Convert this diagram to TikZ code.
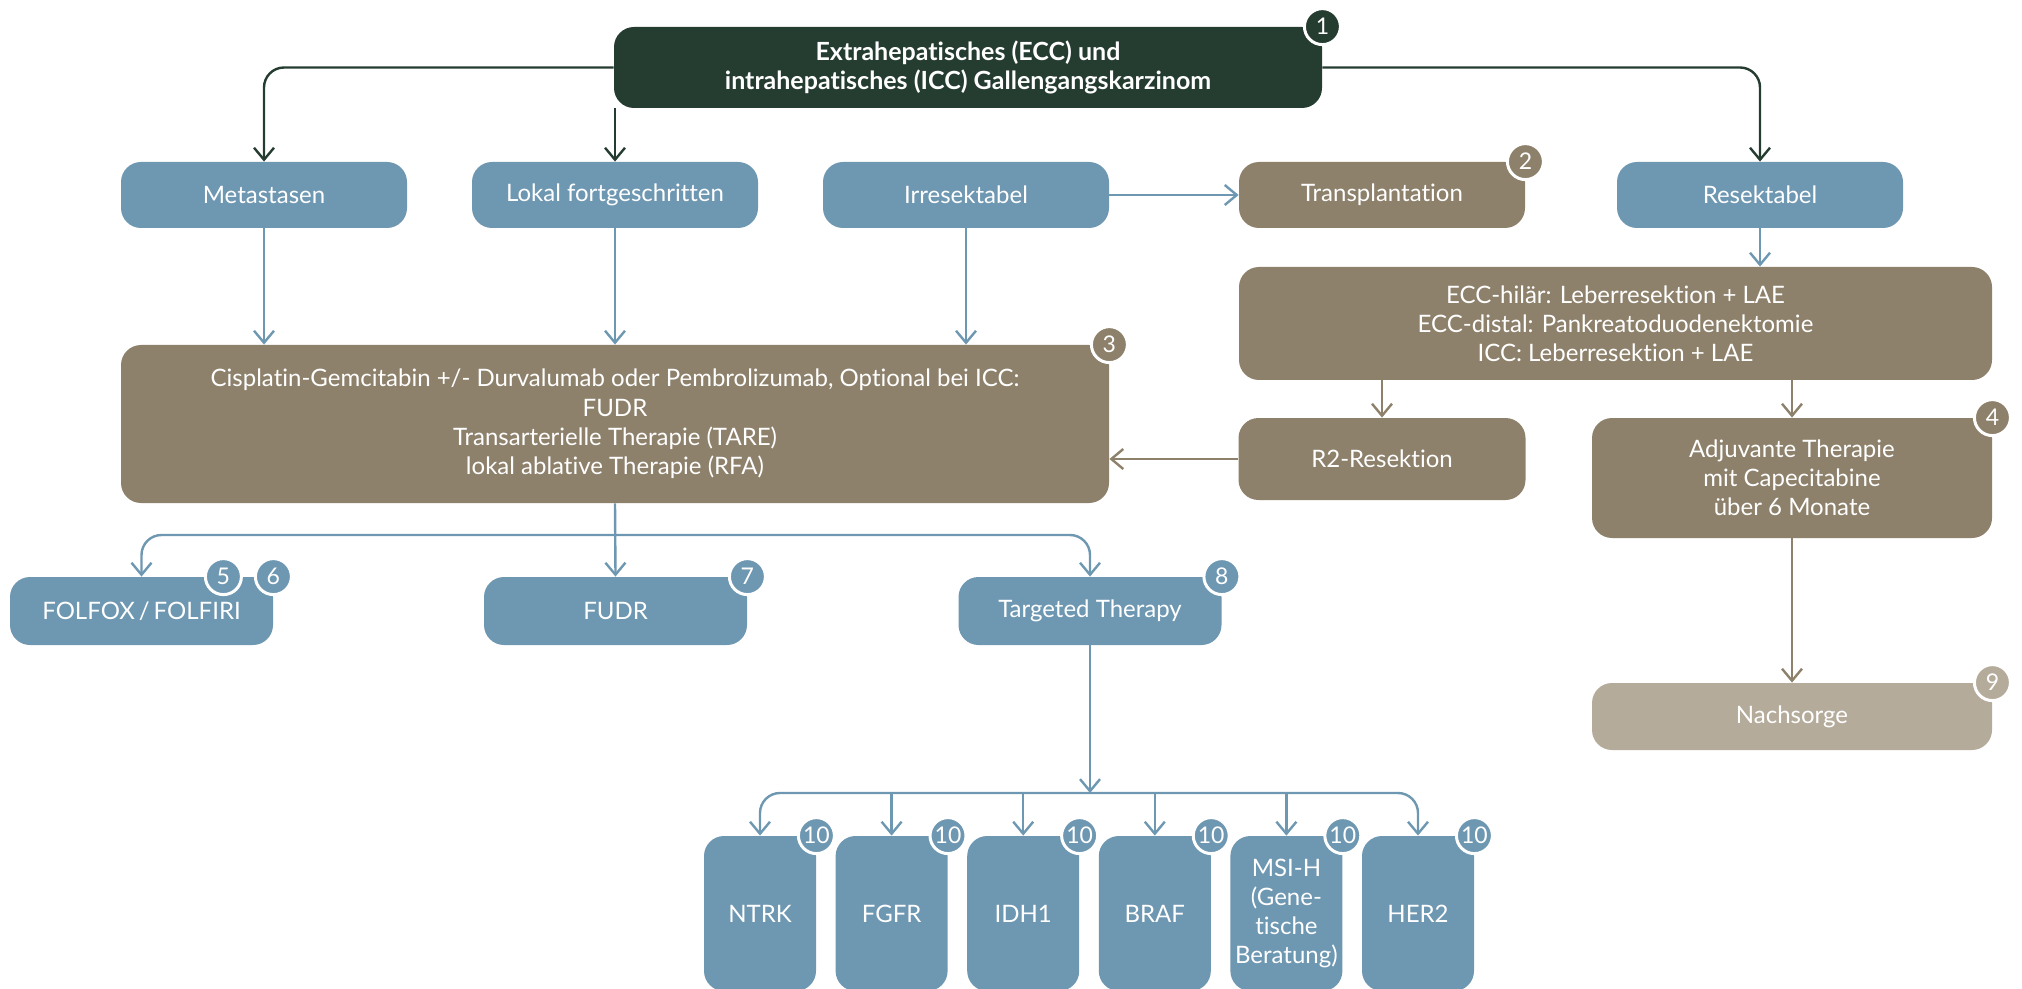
\documentclass[tikz,border=0pt]{standalone}
\usepackage{fontspec}
\setmainfont{Lato}[Ligatures=NoCommon]
\usetikzlibrary{arrows.meta}
\definecolor{dgreen}{HTML}{253C31}
\definecolor{cblue}{HTML}{6E97B2}
\definecolor{cbrown}{HTML}{8E816B}
\definecolor{clight}{HTML}{B5AB9B}
\tikzset{
  box/.style={rounded corners=10pt, text=white, align=center, inner sep=0pt,
    font=\fontsize{12}{14.6}\selectfont},
  bluebox/.style={box, fill=cblue},
  brownbox/.style={box, fill=cbrown},
  rowbox/.style={minimum width=143pt, minimum height=33pt},
  badge/.style={circle, draw=white, line width=1.5pt, minimum size=18pt, inner sep=0pt,
    text=white, font=\fontsize{11.5}{12}\selectfont},
  conn/.style={line width=1.2pt, rounded corners=10pt, -{Straight Barb[length=6pt,width=10pt,line width=1.2pt]}},
}
\begin{document}
\begin{tikzpicture}[x=0.5pt,y=-0.5pt]
\useasboundingbox (0,0) rectangle (2022,989);
\begin{scope}
\clip (0,0) rectangle (2022,989);
% top
\node[box, fill=dgreen, minimum width=354pt, minimum height=40.5pt, font=\bfseries\fontsize{12.5}{14.5}\selectfont] (top) at (968,67.5)
  {Extrahepatisches (ECC) und\\intrahepatisches (ICC) Gallengangskarzinom};
% row 1
\node[bluebox, rowbox] (meta) at (264,195) {Metastasen};
\node[bluebox, rowbox] (lokal) at (615,195) {Lokal fortgeschritten};
\node[bluebox, rowbox] (irr) at (966,195) {Irresektabel};
\node[brownbox, rowbox] (trans) at (1382,195) {Transplantation};
\node[bluebox, rowbox] (resek) at (1760,195) {Resektabel};
% ECC
\node[brownbox, minimum width=376.5pt, minimum height=56.5pt] (ecc) at (1615.5,323.5)
  {ECC-hilär: Leberresektion + LAE\\ECC-distal: Pankreatoduodenektomie\\ICC: Leberresektion + LAE};
% big
\node[brownbox, minimum width=494pt, minimum height=79pt] (big) at (615,424)
  {Cisplatin-Gemcitabin +/- Durvalumab oder Pembrolizumab, Optional bei ICC:\\FUDR\\Transarterielle Therapie (TARE)\\lokal ablative Therapie (RFA)};
\node[brownbox, minimum width=143.5pt, minimum height=41pt] (r2) at (1382,459) {R2-Resektion};
\node[brownbox, minimum width=200pt, minimum height=60pt] (adj) at (1792,478) {Adjuvante Therapie\\mit Capecitabine\\über 6 Monate};
\node[box, fill=clight, minimum width=200pt, minimum height=33.5pt] (nach) at (1792,716.5) {Nachsorge};
% row 3
\node[bluebox, minimum width=131.5pt, minimum height=34pt] (folfox) at (141.5,611) {FOLFOX\,/\,FOLFIRI};
\node[bluebox, minimum width=131.5pt, minimum height=34pt] (fudr) at (615.5,611) {FUDR};
\node[bluebox, minimum width=131.5pt, minimum height=34pt] (targ) at (1090,611) {Targeted Therapy};
% bottom
\foreach \n/\t [count=\i from 0] in {ntrk/NTRK, fgfr/FGFR, idh/IDH1, braf/BRAF, msi/{MSI-H\\(Gene-\\tische\\Beratung)}, her/HER2}{
  \node[bluebox, minimum width=56pt, minimum height=77.5pt] (\n) at ({760+131.6*\i},913.5) {\t};
}
% coordinates
\coordinate (b1) at (615,535);
\coordinate (b2) at (1090,793);
% connectors top
\draw[conn, dgreen] (top.west) -| (meta.north);
\draw[conn, dgreen] (lokal.north |- top.south) -- (lokal.north);
\draw[conn, dgreen] (top.east) -| (resek.north);
% blue
\draw[conn, cblue] (irr.east) -- (trans.west);
\draw[conn, cblue] (resek.south) -- (resek.south |- ecc.north);
\draw[conn, cblue] (meta.south) -- (meta.south |- big.north);
\draw[conn, cblue] (lokal.south) -- (lokal.south |- big.north);
\draw[conn, cblue] (irr.south) -- (irr.south |- big.north);
% brown
\draw[conn, cbrown] (r2.north |- ecc.south) -- (r2.north);
\draw[conn, cbrown] (adj.north |- ecc.south) -- (adj.north);
\draw[conn, cbrown] (r2.west) -- (r2.west -| big.east);
\draw[conn, cbrown] (adj.south) -- (nach.north);
% branch 1
\draw[conn, cblue] (big.south) -- (fudr.north);
\draw[conn, cblue] (b1) -| (folfox.north);
\draw[conn, cblue] (b1) -| (targ.north);
% branch 2
\draw[conn, cblue] (targ.south) -- (b2);
\draw[conn, cblue] (b2) -| (ntrk.north);
\draw[conn, cblue] (b2) -| (her.north);
\foreach \n in {fgfr, idh, braf, msi}{
  \draw[conn, cblue] (\n.north |- b2) -- (\n.north);
}
% badges
\node[badge, fill=dgreen] (n1) at (top.north east) {1};
\node[badge, fill=cbrown] (n2) at (trans.north east) {2};
\node[badge, fill=cbrown] (n3) at (big.north east) {3};
\node[badge, fill=cbrown] (n4) at (adj.north east) {4};
\node[badge, fill=cblue] (n5) at ([xshift=-25pt]folfox.north east) {5};
\node[badge, fill=cblue] (n6) at (folfox.north east) {6};
\node[badge, fill=cblue] (n7) at (fudr.north east) {7};
\node[badge, fill=cblue] (n8) at (targ.north east) {8};
\node[badge, fill=clight] (n9) at (nach.north east) {9};
\foreach \n in {ntrk, fgfr, idh, braf, msi, her}{
  \node[badge, fill=cblue] (t\n) at (\n.north east) {10};
}
\end{scope}
\end{tikzpicture}
\end{document}
